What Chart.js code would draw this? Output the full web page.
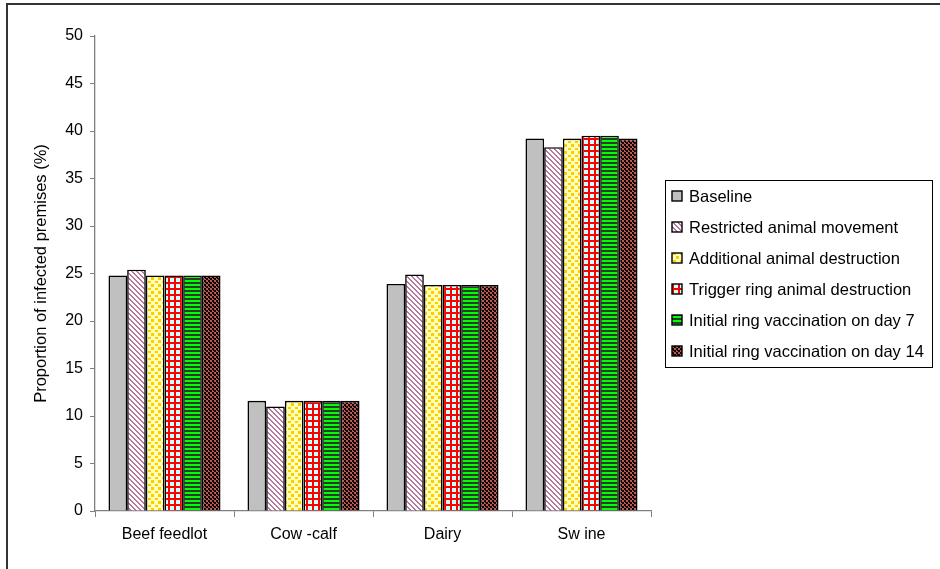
<!DOCTYPE html>
<html>
<head>
<meta charset="utf-8">
<script src="https://cdn.jsdelivr.net/npm/chart.js@4.4.1/dist/chart.umd.min.js"></script>
<style>
  html, body { margin: 0; padding: 0; background: #ffffff; }
  #wrap { width: 940px; height: 569px; position: relative; }
</style>
</head>
<body>
<div id="wrap"><canvas id="c" width="940" height="569"></canvas></div>
<script>
// ---- Data ----
const categories = ['Beef feedlot', 'Cow -calf', 'Dairy', 'Sw ine'];
const seriesNames = [
  'Baseline',
  'Restricted animal movement',
  'Additional animal destruction',
  'Trigger ring animal destruction',
  'Initial ring vaccination on day 7',
  'Initial ring vaccination on day 14'
];
const baseline   = [24.8, 11.6, 23.9, 39.2];
const restricted = [25.4, 11.0, 24.9, 38.3];
const additional = [24.8, 11.6, 23.8, 39.2];
const trigger    = [24.8, 11.6, 23.8, 39.5];
const vacc7      = [24.8, 11.6, 23.8, 39.5];
const vacc14     = [24.8, 11.6, 23.8, 39.2];
const yMin = 0, yMax = 50, yStep = 5;
const yTitle = 'Proportion of infected premises (%)';

// ---- Patterns ----
function tile(w, h, draw) {
  const c = document.createElement('canvas');
  c.width = w; c.height = h;
  const g = c.getContext('2d');
  draw(g);
  return document.getElementById('c').getContext('2d').createPattern(c, 'repeat');
}
const fillBaseline = '#c0c0c0';
const fillRestricted = tile(5, 5, g => {
  g.fillStyle = '#ffffff'; g.fillRect(0, 0, 5, 5);
  g.fillStyle = '#b8789f';
  for (let i = 0; i < 5; i++) { g.fillRect(i, i, 1, 1); g.fillRect((i + 1) % 5, i, 1, 1); }
});
const fillAdditional = tile(7, 7, g => {
  g.fillStyle = '#ffffb8'; g.fillRect(0, 0, 7, 7);
  g.fillStyle = '#ffcc00';
  g.fillRect(1, 1, 3, 2); g.fillRect(4, 4, 3, 3);
});
const fillTrigger = tile(6, 6, g => {
  g.fillStyle = '#ccffff'; g.fillRect(0, 0, 6, 6);
  g.fillStyle = '#ff0000';
  g.fillRect(0, 0, 2, 6); g.fillRect(0, 0, 6, 2);
});
const fillVacc7 = tile(4, 4, g => {
  g.fillStyle = '#00ff00'; g.fillRect(0, 0, 4, 2);
  g.fillStyle = '#2e3a2e'; g.fillRect(0, 2, 4, 2);
});
const fillVacc14 = tile(4, 4, g => {
  g.fillStyle = '#b85a52'; g.fillRect(0, 0, 4, 4);
  g.fillStyle = '#100404';
  g.fillRect(0, 0, 2, 2); g.fillRect(2, 2, 2, 2); g.fillRect(1, 2, 1, 1);
});

const seriesValues = [baseline, restricted, additional, trigger, vacc7, vacc14];
const seriesFills = [fillBaseline, fillRestricted, fillAdditional, fillTrigger, fillVacc7, fillVacc14];

Chart.defaults.font.family = "'Liberation Sans', Arial, sans-serif";
Chart.defaults.color = '#000000';

const frame = {
  id: 'frame',
  beforeDraw(chart) {
    const ctx = chart.ctx;
    ctx.save();
    ctx.fillStyle = '#ffffff';
    ctx.fillRect(0, 0, chart.width, chart.height);
    ctx.strokeStyle = '#333333';
    ctx.lineWidth = 2;
    ctx.beginPath();
    ctx.moveTo(7, chart.height + 5);
    ctx.lineTo(7, 4);
    ctx.lineTo(chart.width + 5, 4);
    ctx.stroke();
    ctx.restore();
  }
};

const boxLegend = {
  id: 'boxLegend',
  afterDraw(chart) {
    const ctx = chart.ctx;
    const x0 = chart.chartArea.right + 14;
    const y0 = 180, w = 267, rowH = 31;
    const n = chart.data.datasets.length;
    const h = n * rowH + 1;
    ctx.save();
    ctx.fillStyle = '#ffffff';
    ctx.fillRect(x0, y0, w, h);
    ctx.strokeStyle = '#000000';
    ctx.lineWidth = 1;
    ctx.strokeRect(x0 + 0.5, y0 + 0.5, w, h);
    ctx.font = "16.5px 'Liberation Sans', Arial, sans-serif";
    ctx.textBaseline = 'middle';
    chart.data.datasets.forEach((ds, i) => {
      const cy = y0 + 16 + i * rowH;
      ctx.fillStyle = ds.backgroundColor;
      ctx.fillRect(x0 + 7, cy - 5, 10, 10);
      ctx.strokeStyle = '#000000';
      ctx.lineWidth = 1.4;
      ctx.strokeRect(x0 + 7, cy - 5, 10, 10);
      ctx.fillStyle = '#000000';
      ctx.fillText(ds.label, x0 + 24, cy + 1);
    });
    ctx.restore();
  }
};

new Chart(document.getElementById('c'), {
  type: 'bar',
  data: {
    labels: categories,
    datasets: seriesNames.map((name, i) => ({
      label: name,
      data: seriesValues[i],
      backgroundColor: seriesFills[i],
      borderColor: '#000000',
      borderWidth: 1.6,
      borderSkipped: 'bottom',
      categoryPercentage: 0.806,
      barPercentage: 1.0
    }))
  },
  options: {
    responsive: false,
    devicePixelRatio: 1,
    animation: false,
    layout: { padding: { left: 0, top: 36, right: 289, bottom: 0 } },
    plugins: {
      legend: { display: false },
      tooltip: { enabled: false }
    },
    scales: {
      x: {
        afterFit: s => { s.height = 58; },
        grid: { offset: true, drawOnChartArea: false, tickLength: 6, color: '#808080', lineWidth: 1 },
        border: { display: true, color: '#808080', width: 1.3 },
        ticks: { font: { size: 16 }, color: '#000000', padding: 8, maxRotation: 0 }
      },
      y: {
        min: yMin, max: yMax,
        afterFit: s => { s.width = 95; },
        grid: { drawOnChartArea: false, tickLength: 5, color: '#808080', lineWidth: 1 },
        border: { display: true, color: '#808080', width: 1.3 },
        ticks: { stepSize: yStep, font: { size: 16 }, color: '#000000', padding: 7 },
        title: { display: true, text: yTitle, font: { size: 16.5 }, color: '#000000', padding: { top: 32, bottom: 0 } }
      }
    }
  },
  plugins: [frame, boxLegend]
});
</script>
</body>
</html>
